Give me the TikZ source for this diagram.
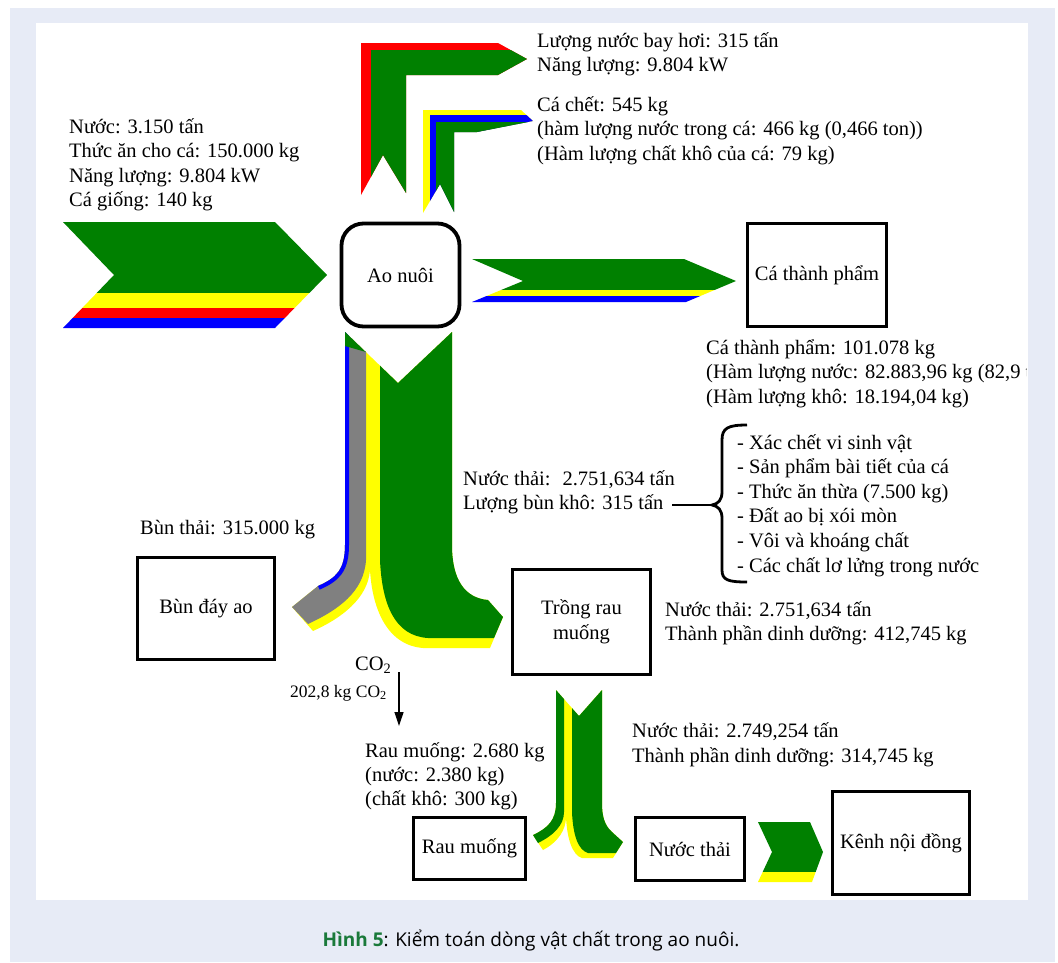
\documentclass[tikz,border=0pt]{standalone}
\usepackage{fontspec}
\setmainfont{Liberation Serif}
\newfontfamily\capfont{Open Sans}
\usetikzlibrary{arrows.meta}
\definecolor{fgreen}{RGB}{0,128,0}
\definecolor{fyellow}{RGB}{255,255,0}
\definecolor{fred}{RGB}{255,0,0}
\definecolor{fblue}{RGB}{0,0,255}
\definecolor{fgray}{RGB}{128,128,128}
\definecolor{bgblue}{RGB}{231,235,246}
\definecolor{capgreen}{RGB}{26,121,58}
\begin{document}
\begin{tikzpicture}[x=1pt,y=-1pt,
  txt/.style={inner sep=0pt, anchor=base west, font=\fontsize{20.5}{24.5}\selectfont},
  smalltxt/.style={inner sep=0pt, anchor=base west, font=\fontsize{17.5}{20}\selectfont},
  box/.style={draw, line width=3.8pt, inner sep=0pt, align=center, font=\fontsize{20.5}{24.5}\selectfont},
]
\useasboundingbox (0,0) rectangle (1058,962);
\fill[white] (0,0) rectangle (1058,962);
\fill[bgblue] (10,8) rectangle (1055,962);
\fill[white] (36,23) rectangle (1028,900);

% input chevron
\begin{scope}
\clip (63,222) -- (275,222) -- (327,275) -- (275,328) -- (63,328) -- (114,275) -- cycle;
\fill[fgreen] (60,220) rectangle (330,293);
\fill[fyellow] (60,293) rectangle (330,308);
\fill[fred] (60,308) rectangle (330,318);
\fill[fblue] (60,318) rectangle (330,330);
\end{scope}

% output chevron to Ca thanh pham
\begin{scope}
\clip (472,259) -- (684,259) -- (736,281) -- (686,302) -- (472,302) -- (523,281) -- cycle;
\fill[fgreen] (470,255) rectangle (740,290);
\fill[fyellow] (470,290) rectangle (740,296);
\fill[fblue] (470,296) rectangle (740,305);
\end{scope}

% big L arrow (evaporation)
\begin{scope}
\clip (361,195) -- (361,43) -- (498,43) -- (527,59) -- (498,75) -- (406,75) -- (406,193) -- (383,155) -- cycle;
\fill[fred] (350,40) rectangle (530,200);
\fill[fgreen] (371,50) rectangle (530,200);
\end{scope}

% small L arrow (dead fish)
\begin{scope}
\clip (423,213) -- (423,110) -- (521,110) -- (533,121) -- (477,132) -- (454,132) -- (454,212) -- (440,184) -- cycle;
\fill[fyellow] (420,105) rectangle (540,215);
\fill[fblue] (430,115) rectangle (540,215);
\fill[fgreen] (436,122) rectangle (540,215);
\end{scope}

% down flow from Ao nuoi
\begin{scope}
\clip (280,332) -- (345,332) -- (398,383) -- (452,332) -- (520,332) -- (520,700) -- (280,700) -- cycle;
\fill[fyellow] (345,330) -- (345,545) .. controls (345,570) and (336,578) .. (318,586) -- (292,607) -- (313,631)
  .. controls (342,618) and (368,598) .. (370,570) .. controls (372,605) and (385,645) .. (423,648)
  -- (490,648) -- (503,617) -- (488,600) .. controls (465,598) and (452,580) .. (452,545) -- (452,330) -- cycle;
\fill[fgray] (345,330) -- (345,545) .. controls (345,570) and (336,578) .. (318,586) -- (292,607) -- (308,624)
  .. controls (338,610) and (364,592) .. (366,560) -- (366,330) -- cycle;
\begin{scope}
\clip (345,330) -- (345,545) .. controls (345,570) and (336,578) .. (318,586) -- (292,607) -- (308,624)
  .. controls (338,610) and (364,592) .. (366,560) -- (366,330) -- cycle;
\draw[fblue, line width=8pt] (345,330) -- (345,545) .. controls (345,570) and (336,578) .. (318,586);
\end{scope}
\fill[fgreen] (380,330) -- (380,560) .. controls (382,605) and (395,636) .. (428,638) -- (494,638) -- (503,617)
  -- (488,600) .. controls (465,598) and (452,580) .. (452,545) -- (452,330) -- cycle;
\fill[fgreen] (345,332) -- (366,352) -- (345,346) -- cycle;
\end{scope}

% down flow from Trong rau muong
\begin{scope}
\clip (530,690) -- (556,690) -- (579,716) -- (602,690) -- (630,690) -- (630,870) -- (530,870) -- cycle;
\fill[fyellow] (556,688) -- (556,803) .. controls (556,820) and (548,828) .. (533,835) -- (543,850)
  .. controls (558,842) and (566,830) .. (566,817) .. controls (567,838) and (572,855) .. (582,858)
  -- (613,858) -- (623,842) -- (612,832) .. controls (604,825) and (602,815) .. (602,803) -- (602,688) -- cycle;
\fill[fgreen] (556,688) -- (556,803) .. controls (556,820) and (548,828) .. (533,835) -- (538,843)
  .. controls (554,835) and (564,825) .. (564,812) -- (564,688) -- cycle;
\fill[fgreen] (572,688) -- (572,812) .. controls (573,835) and (578,850) .. (588,853) -- (616,853) -- (623,842)
  -- (612,832) .. controls (604,825) and (602,815) .. (602,803) -- (602,688) -- cycle;
\end{scope}

% chevron Nuoc thai -> Kenh noi dong
\begin{scope}
\clip (758,822) -- (810,822) -- (823,852) -- (812,882) -- (758,882) -- (772,852) -- cycle;
\fill[fgreen] (750,820) rectangle (830,872);
\fill[fyellow] (750,872) rectangle (830,885);
\end{scope}

% boxes
\node[box, rounded corners=22pt, minimum width=118pt, minimum height=103pt] (ao) at (400.5,275) {Ao nuôi};
\node[box, minimum width=139pt, minimum height=103pt] (ca) at (817,275) {Cá thành phẩm};
\node[box, minimum width=137pt, minimum height=102pt] (bun) at (206,608.5) {Bùn đáy ao};
\node[box, minimum width=138pt, minimum height=105pt] (trong) at (581.5,622) {Trồng rau\\muống};
\node[box, minimum width=112pt, minimum height=62pt] (rau) at (469.5,848.5) {Rau muống};
\node[box, minimum width=109pt, minimum height=63pt] (nt) at (690,849) {Nước thải};
\node[box, minimum width=137pt, minimum height=103pt] (kenh) at (901,843) {Kênh nội đồng};

% texts
\node[txt] (ev1) at (537,47) {Lượng nước bay hơi: 315 tấn};
\node[txt] (ev2) at (537,71) {Năng lượng: 9.804 kW};
\node[txt] (cc1) at (537,111) {Cá chết: 545 kg};
\node[txt] (cc2) at (537,135.5) {(hàm lượng nước trong cá: 466 kg (0,466 ton))};
\node[txt] (cc3) at (537,160) {(Hàm lượng chất khô của cá: 79 kg)};
\node[txt] (in1) at (69,133) {Nước: 3.150 tấn};
\node[txt] (in2) at (69,157.5) {Thức ăn cho cá: 150.000 kg};
\node[txt] (in3) at (69,182) {Năng lượng: 9.804 kW};
\node[txt] (in4) at (69,206) {Cá giống: 140 kg};
\node[txt] (cf1) at (706,354) {Cá thành phẩm: 101.078 kg};
\begin{scope}
\clip (0,0) rectangle (1026,962);
\node[txt] (cf2) at (706,378.5) {(Hàm lượng nước: 82.883,96 kg (82,9 tấn))};
\end{scope}
\node[txt] (cf3) at (706,403) {(Hàm lượng khô: 18.194,04 kg)};
\node[txt] (wt1) at (463,485) {Nước thải:~ 2.751,634 tấn};
\node[txt] (wt2) at (463,509) {Lượng bùn khô: 315 tấn};
\node[txt] (li1) at (737,449) {- Xác chết vi sinh vật};
\node[txt] (li2) at (737,473.6) {- Sản phẩm bài tiết của cá};
\node[txt] (li3) at (737,498.2) {- Thức ăn thừa (7.500 kg)};
\node[txt] (li4) at (737,522.8) {- Đất ao bị xói mòn};
\node[txt] (li5) at (737,547.4) {- Vôi và khoáng chất};
\node[txt] (li6) at (737,572) {- Các chất lơ lửng trong nước};
\node[txt] (bt) at (140,534) {Bùn thải: 315.000 kg};
\node[txt] (tr1) at (665,616) {Nước thải: 2.751,634 tấn};
\node[txt] (tr2) at (665,640) {Thành phần dinh dưỡng: 412,745 kg};
\node[txt] (co2a) at (355,670) {CO\textsubscript{2}};
\node[smalltxt] (co2b) at (290,697) {202,8 kg CO\textsubscript{2}};
\node[txt] (rm1) at (365,757) {Rau muống: 2.680 kg};
\node[txt] (rm2) at (365,781) {(nước: 2.380 kg)};
\node[txt] (rm3) at (365,805) {(chất khô: 300 kg)};
\node[txt] (nw1) at (632,737) {Nước thải: 2.749,254 tấn};
\node[txt] (nw2) at (632,762) {Thành phần dinh dưỡng: 314,745 kg};

% brace
\coordinate (brl) at (672,505);
\coordinate (brtip) at (712,505);
\draw[line width=2.4pt] (brl) -- (brtip);
\draw[line width=2.8pt] (747,425) .. controls (728,425) and (722,428) .. (722,440) -- (722,492)
  .. controls (722,500) and (718,504) .. (brtip) .. controls (718,506) and (722,510) .. (722,518)
  -- (722,570) .. controls (722,580) and (728,582) .. (747,582);

% CO2 arrow
\coordinate (co2top) at (399,672);
\coordinate (co2bot) at (399,726);
\draw[line width=1.2pt, -{Triangle[length=14pt, width=9pt]}] (co2top) -- (co2bot);

% caption
\node[inner sep=0pt, anchor=base, font=\capfont\fontsize{19}{22}\selectfont] (cap) at (531,946)
  {\textcolor{capgreen}{\bfseries Hình 5}: Kiểm toán dòng vật chất trong ao nuôi.};
\end{tikzpicture}
\end{document}
